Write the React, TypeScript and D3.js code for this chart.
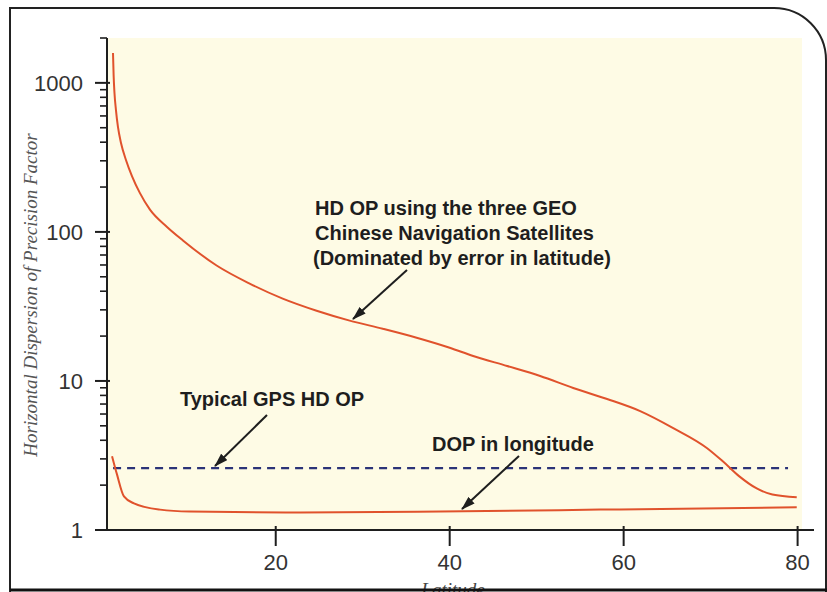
import React from 'react';
import * as d3 from 'd3';

// latitude (deg) vs HDOP with the three GEO satellites
const geoLat = [1.29, 1.36, 1.46, 1.63, 1.86, 2.21, 2.78, 3.47, 4.39, 5.54, 7.5, 9.33, 13.2, 17.0, 20.8, 24.7, 28.5, 32.3, 36.2, 40.0, 42.7, 46.6, 50.4, 54.2, 58.1, 61.9, 65.7, 69.6, 71.4, 73.3, 75.3, 77.1, 79.9];
const geoHdop = [1585, 1130, 855, 657, 506, 395, 304, 237, 182, 141, 108, 87.7, 59.5, 45, 35.7, 29.6, 25.4, 22.4, 19.5, 16.7, 14.7, 12.6, 10.8, 8.97, 7.57, 6.28, 4.83, 3.54, 2.89, 2.29, 1.9, 1.73, 1.66];

// DOP in longitude
const lonLat = [1.18, 1.74, 2.55, 3.7, 6.69, 10.1, 22.8, 38.9, 57.3, 79.9];
const lonDop = [3.13, 2.37, 1.68, 1.51, 1.37, 1.33, 1.31, 1.33, 1.37, 1.42];

// typical GPS HDOP (flat)
const gpsLat = [1.3, 78.9];
const gpsHdop = [2.6, 2.6];

const xTicks = [20, 40, 60, 80];
const yTicks = [1, 10, 100, 1000];

const W = 827;
const H = 592;

const App = () => {
  const x = d3.scaleLinear().domain([0.6, 82]).range([107, 815]);
  const y = d3.scaleLog().domain([1, 2000]).range([530, 38]);

  const minor: number[] = [];
  yTicks.forEach(d => {
    for (let k = 2; k <= 9; k++) {
      if (d * k <= 2000) minor.push(d * k);
    }
  });

  const line = d3.line<[number, number]>()
    .x(d => x(d[0]))
    .y(d => y(d[1]))
    .curve(d3.curveMonotoneX);

  const geo = line(geoLat.map((v, i) => [v, geoHdop[i]]));
  const lon = line(lonLat.map((v, i) => [v, lonDop[i]]));
  const gps = line(gpsLat.map((v, i) => [v, gpsHdop[i]]));

  const red = '#e0522c';
  const ink = '#1e1e1e';
  const sans = 'Liberation Sans, Arial, Helvetica, sans-serif';
  const serif = 'Liberation Serif, Times New Roman, serif';

  return (
    <svg width={W} height={H} style={{ position: 'absolute', left: 0, top: 0, background: '#fff' }}>
      <defs>
        <marker id="ah" viewBox="0 0 14 9" refX="13" refY="4.5" markerWidth="14" markerHeight="9"
          markerUnits="userSpaceOnUse" orient="auto">
          <path d="M0,0 L14,4.5 L0,9 z" fill={ink} />
        </marker>
      </defs>

      {/* plot background */}
      <rect x={107} y={38} width={695} height={492} fill="#fefbe5" />

      {/* frame */}
      <path d={`M10,592 L10,8 L774,8 A52,52 0 0 1 826,60 L826,592`} fill="none" stroke="#222" strokeWidth={2} />

      {/* curves */}
      <path d={gps ?? ''} fill="none" stroke="#2b3378" strokeWidth={2.2} strokeDasharray="8 6" />
      <path d={geo ?? ''} fill="none" stroke={red} strokeWidth={2} />
      <path d={lon ?? ''} fill="none" stroke={red} strokeWidth={2} />

      {/* y axis */}
      <line x1={107} x2={107} y1={y(2000)} y2={531} stroke={ink} strokeWidth={2} />
      {minor.map(d => (
        <line key={'m' + d} x1={100} x2={107} y1={y(d)} y2={y(d)} stroke={ink} strokeWidth={1.6} />
      ))}
      {yTicks.map(d => (
        <g key={'y' + d}>
          <line x1={95} x2={110} y1={y(d)} y2={y(d)} stroke={ink} strokeWidth={2} />
          <text x={83} y={y(d)} dy="0.35em" textAnchor="end" fontFamily={sans} fontSize={22} fill="#333">{d}</text>
        </g>
      ))}

      {/* x axis */}
      <line x1={106} x2={814} y1={530} y2={530} stroke={ink} strokeWidth={2} />
      {xTicks.map(d => (
        <g key={'x' + d}>
          <line x1={x(d)} x2={x(d)} y1={526} y2={546} stroke={ink} strokeWidth={2} />
          <text x={x(d)} y={570} textAnchor="middle" fontFamily={sans} fontSize={22} fill="#333">{d}</text>
        </g>
      ))}

      {/* axis titles */}
      <text transform="translate(37,295) rotate(-90)" textAnchor="middle" fontFamily={serif}
        fontStyle="italic" fontSize={19} fill="#555">Horizontal Dispersion of Precision Factor</text>
      <text x={453} y={596} textAnchor="middle" fontFamily={serif} fontStyle="italic" fontSize={19} fill="#444">Latitude</text>

      {/* bottom border over the title */}
      <line x1={10} x2={827} y1={590} y2={590} stroke="#111" strokeWidth={3} />

      {/* annotations */}
      <g fontFamily={sans} fontWeight="bold" fontSize={20} fill={ink}>
        <text x={315} y={215}>HD OP using the three GEO</text>
        <text x={315} y={240}>Chinese Navigation Satellites</text>
        <text x={313} y={265}>(Dominated by error in latitude)</text>
        <text x={180} y={406}>Typical GPS HD OP</text>
        <text x={432} y={451}>DOP in longitude</text>
      </g>
      <line x1={407} y1={270} x2={353} y2={319} stroke={ink} strokeWidth={2} markerEnd="url(#ah)" />
      <line x1={267} y1={415} x2={215} y2={466} stroke={ink} strokeWidth={2} markerEnd="url(#ah)" />
      <line x1={519} y1={456} x2={462} y2={509} stroke={ink} strokeWidth={2} markerEnd="url(#ah)" />
    </svg>
  );
};

export default App;
